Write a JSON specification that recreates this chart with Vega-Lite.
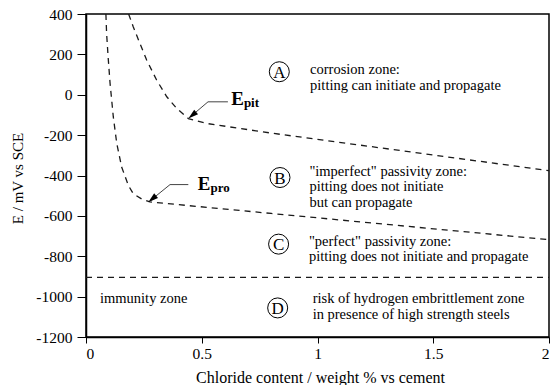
{
  "$schema": "https://vega.github.io/schema/vega-lite/v6.json",
  "width": 463,
  "height": 323,
  "autosize": {"type": "none"},
  "padding": {"left": 86, "top": 14, "right": 2, "bottom": 48},
  "background": "white",
  "config": {
    "view": {"stroke": "#000", "strokeWidth": 1.5},
    "font": "Liberation Serif",
    "axis": {
      "grid": false,
      "domainColor": "#000",
      "domainWidth": 1.5,
      "tickColor": "#000",
      "tickWidth": 1,
      "labelFont": "Liberation Serif",
      "labelFontSize": 15.5,
      "labelColor": "#000",
      "titleFont": "Liberation Serif",
      "titleFontWeight": "normal",
      "titleColor": "#000"
    }
  },
  "datasets": {
    "curves": [
      {"series": "Epit", "x": 0.184, "y": 400},
      {"series": "Epit", "x": 0.204, "y": 337},
      {"series": "Epit", "x": 0.233, "y": 254},
      {"series": "Epit", "x": 0.262, "y": 172},
      {"series": "Epit", "x": 0.305, "y": 73},
      {"series": "Epit", "x": 0.349, "y": -10},
      {"series": "Epit", "x": 0.392, "y": -68},
      {"series": "Epit", "x": 0.442, "y": -118},
      {"series": "Epit", "x": 0.52, "y": -142},
      {"series": "Epit", "x": 0.8, "y": -190},
      {"series": "Epit", "x": 2.0, "y": -376},
      {"series": "Epro", "x": 0.086, "y": 400},
      {"series": "Epro", "x": 0.089, "y": 304},
      {"series": "Epro", "x": 0.096, "y": 180},
      {"series": "Epro", "x": 0.104, "y": 56},
      {"series": "Epro", "x": 0.118, "y": -110},
      {"series": "Epro", "x": 0.133, "y": -242},
      {"series": "Epro", "x": 0.154, "y": -358},
      {"series": "Epro", "x": 0.183, "y": -449},
      {"series": "Epro", "x": 0.204, "y": -490},
      {"series": "Epro", "x": 0.24, "y": -516},
      {"series": "Epro", "x": 0.276, "y": -531},
      {"series": "Epro", "x": 0.8, "y": -588},
      {"series": "Epro", "x": 2.0, "y": -718},
      {"series": "immunity", "x": 0.0, "y": -905},
      {"series": "immunity", "x": 2.0, "y": -905}
    ],
    "leaders": [
      {"id": "pit", "k": 1, "x": 0.613, "y": -35},
      {"id": "pit", "k": 2, "x": 0.527, "y": -35},
      {"id": "pit", "k": 3, "x": 0.45, "y": -110},
      {"id": "pro", "k": 1, "x": 0.442, "y": -445},
      {"id": "pro", "k": 2, "x": 0.363, "y": -445},
      {"id": "pro", "k": 3, "x": 0.277, "y": -525}
    ],
    "tips": [
      {"x": 0.442, "y": -118},
      {"x": 0.269, "y": -532}
    ],
    "bigE": [
      {"x": 0.627, "y": -52, "t": "E"},
      {"x": 0.483, "y": -473, "t": "E"}
    ],
    "subs": [
      {"x": 0.682, "y": -63, "t": "pit"},
      {"x": 0.538, "y": -484, "t": "pro"}
    ],
    "circles": [
      {"x": 0.835, "y": 114, "t": "A"},
      {"x": 0.838, "y": -410, "t": "B"},
      {"x": 0.832, "y": -740, "t": "C"},
      {"x": 0.828, "y": -1056, "t": "D"}
    ],
    "zones": [
      {"x": 0.968, "y": 125, "t": "corrosion zone:"},
      {"x": 0.968, "y": 45, "t": "pitting can initiate and propagate"},
      {"x": 0.965, "y": -382, "t": "\"imperfect\" passivity zone:"},
      {"x": 0.965, "y": -458, "t": "pitting does not initiate"},
      {"x": 0.965, "y": -534, "t": "but can propagate"},
      {"x": 0.963, "y": -727, "t": "\"perfect\" passivity zone:"},
      {"x": 0.963, "y": -806, "t": "pitting does not initiate and propagate"},
      {"x": 0.979, "y": -1014, "t": "risk of hydrogen embrittlement zone"},
      {"x": 0.979, "y": -1090, "t": "in presence of high strength steels"},
      {"x": 0.0605, "y": -1010, "t": "immunity zone"}
    ]
  },
  "layer": [
    {
      "data": {"name": "curves"},
      "mark": {"type": "line", "color": "#1a1a1a", "strokeWidth": 1.3, "strokeDash": [6, 5], "clip": true},
      "encoding": {
        "x": {
          "field": "x", "type": "quantitative",
          "scale": {"domain": [0, 2], "nice": false, "zero": false},
          "axis": {
            "values": [0, 0.5, 1, 1.5, 2],
            "labelExpr": "'' + datum.value",
            "tickSize": 6,
            "labelPadding": 3,
            "title": "Chloride content / weight % vs cement",
            "titleFontSize": 16,
            "titleBaseline": "middle",
            "titleX": 234,
            "titleY": 40
          }
        },
        "y": {
          "field": "y", "type": "quantitative",
          "scale": {"domain": [-1200, 400], "nice": false, "zero": false},
          "axis": {
            "values": [-1200, -1000, -800, -600, -400, -200, 0, 200, 400],
            "labelExpr": "'' + datum.value",
            "tickSize": 9,
            "labelPadding": 5,
            "title": "E / mV vs SCE",
            "titleFontSize": 15,
            "titleAngle": -90,
            "titleBaseline": "middle",
            "titleAlign": "center",
            "titleX": -69,
            "titleY": 164
          }
        },
        "detail": {"field": "series"}
      }
    },
    {
      "data": {"name": "leaders"},
      "mark": {"type": "line", "color": "#444", "strokeWidth": 1},
      "encoding": {
        "x": {"field": "x", "type": "quantitative"},
        "y": {"field": "y", "type": "quantitative"},
        "detail": {"field": "id"},
        "order": {"field": "k"}
      }
    },
    {
      "data": {"name": "tips"},
      "mark": {"type": "point", "shape": "M0,0L-0.5,1.7L0.5,1.7Z", "filled": true, "color": "#000", "opacity": 1, "size": 144, "angle": 230},
      "encoding": {
        "x": {"field": "x", "type": "quantitative"},
        "y": {"field": "y", "type": "quantitative"}
      }
    },
    {
      "data": {"name": "bigE"},
      "mark": {"type": "text", "font": "Liberation Serif", "fontSize": 19, "fontWeight": "bold", "align": "left", "baseline": "alphabetic", "color": "#000"},
      "encoding": {
        "x": {"field": "x", "type": "quantitative"},
        "y": {"field": "y", "type": "quantitative"},
        "text": {"field": "t"}
      }
    },
    {
      "data": {"name": "subs"},
      "mark": {"type": "text", "font": "Liberation Serif", "fontSize": 13, "fontWeight": "bold", "align": "left", "baseline": "alphabetic", "color": "#000"},
      "encoding": {
        "x": {"field": "x", "type": "quantitative"},
        "y": {"field": "y", "type": "quantitative"},
        "text": {"field": "t"}
      }
    },
    {
      "data": {"name": "circles"},
      "mark": {"type": "point", "shape": "circle", "filled": false, "color": "#000", "strokeWidth": 1, "opacity": 1, "size": 400},
      "encoding": {
        "x": {"field": "x", "type": "quantitative"},
        "y": {"field": "y", "type": "quantitative"}
      }
    },
    {
      "data": {"name": "circles"},
      "mark": {"type": "text", "font": "Liberation Serif", "fontSize": 17, "align": "center", "baseline": "middle", "dy": 1, "color": "#000"},
      "encoding": {
        "x": {"field": "x", "type": "quantitative"},
        "y": {"field": "y", "type": "quantitative"},
        "text": {"field": "t"}
      }
    },
    {
      "data": {"name": "zones"},
      "mark": {"type": "text", "font": "Liberation Serif", "fontSize": 14.5, "align": "left", "baseline": "middle", "color": "#000"},
      "encoding": {
        "x": {"field": "x", "type": "quantitative"},
        "y": {"field": "y", "type": "quantitative"},
        "text": {"field": "t"}
      }
    }
  ]
}
